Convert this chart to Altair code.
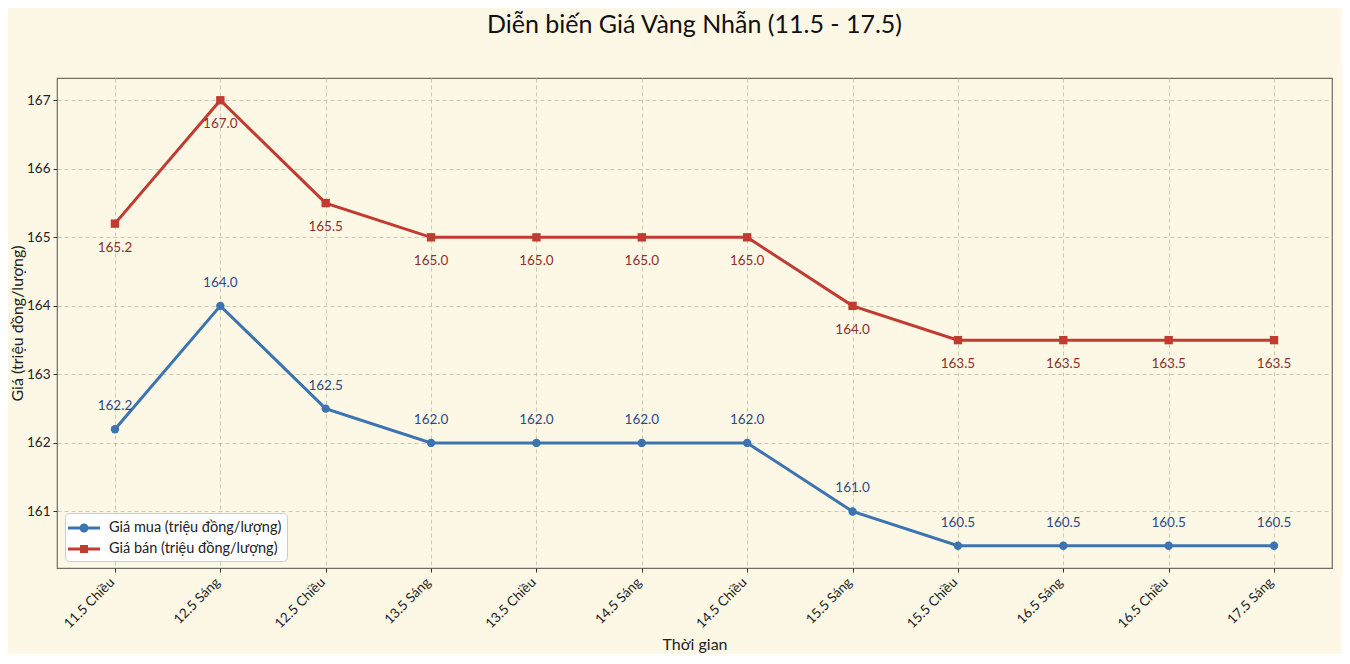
import altair as alt
import pandas as pd

labels = ["11.5 Chiều", "12.5 Sáng", "12.5 Chiều", "13.5 Sáng", "13.5 Chiều", "14.5 Sáng",
          "14.5 Chiều", "15.5 Sáng", "15.5 Chiều", "16.5 Sáng", "16.5 Chiều", "17.5 Sáng"]
gia_mua = [162.2, 164.0, 162.5, 162.0, 162.0, 162.0, 162.0, 161.0, 160.5, 160.5, 160.5, 160.5]
gia_ban = [165.2, 167.0, 165.5, 165.0, 165.0, 165.0, 165.0, 164.0, 163.5, 163.5, 163.5, 163.5]

S_MUA = "Giá mua (triệu đồng/lượng)"
S_BAN = "Giá bán (triệu đồng/lượng)"
BLUE = "#3c74b1"
RED = "#c23b30"
FONT = "Lato"

rows = []
for i, lab in enumerate(labels):
    rows.append({"idx": i, "label": lab, "series": S_MUA, "v": gia_mua[i]})
    rows.append({"idx": i, "label": lab, "series": S_BAN, "v": gia_ban[i]})
df = pd.DataFrame(rows)

label_expr = "[" + ",".join("'" + l + "'" for l in labels) + "][datum.value]"

x = alt.X("idx:Q", scale=alt.Scale(domain=[-0.55, 11.55], nice=False, zero=False),
          axis=alt.Axis(values=list(range(len(labels))), labelExpr=label_expr,
                        labelAngle=-45, labelAlign="right", labelBaseline="top",
                        labelOffset=-8, titlePadding=6, title="Thời gian"))
y = alt.Y("v:Q", scale=alt.Scale(domain=[160.175, 167.325], nice=False, zero=False),
          axis=alt.Axis(values=[161, 162, 163, 164, 165, 166, 167], format="d",
                        titlePadding=1, title="Giá (triệu đồng/lượng)"))

base = alt.Chart(df)
mua = base.transform_filter(alt.datum.series == S_MUA)
ban = base.transform_filter(alt.datum.series == S_BAN)

line_mua = mua.mark_line(strokeWidth=3, color=BLUE).encode(x=x, y=y)
line_ban = ban.mark_line(strokeWidth=3, color=RED).encode(x=x, y=y)

pts_mua = mua.mark_point(shape="circle", filled=True, size=70, opacity=1,
                         color=BLUE).encode(x=x, y=y)
pts_ban = ban.mark_point(shape="square", filled=True, size=70, opacity=1,
                         color=RED).encode(x=x, y=y)

txt_mua = mua.mark_text(dy=-23, fontSize=13.5, font=FONT, color="#2c4a86").encode(
    x=x, y=y, text=alt.Text("v:Q", format=".1f"))
txt_ban = ban.mark_text(dy=24, fontSize=13.5, font=FONT, color="#8e2f2a").encode(
    x=x, y=y, text=alt.Text("v:Q", format=".1f"))

circle_line = ("M-1.6,-0.15H1.6V0.15H-1.6Z "
               "M-0.45,0A0.45,0.45 0 1,1 0.45,0A0.45,0.45 0 1,1 -0.45,0Z")
square_line = "M-1.6,-0.15H1.6V0.15H-1.6Z M-0.4,-0.4H0.4V0.4H-0.4Z"

legend_layer = base.transform_filter(alt.datum.v > 1000).mark_point(
    filled=True, opacity=1, strokeWidth=0).encode(
    x=x, y=y,
    color=alt.Color("series:N", scale=alt.Scale(domain=[S_MUA, S_BAN], range=[BLUE, RED]),
                    title=None,
                    legend=alt.Legend(orient="none", legendX=8, legendY=435,
                                      fillColor="#ffffff", strokeColor="#cccccc",
                                      cornerRadius=4, padding=5, rowPadding=4,
                                      labelFontSize=14.5, labelFont=FONT, labelLimit=0,
                                      labelColor="#222222", symbolSize=400,
                                      symbolOffset=4, labelOffset=15,
                                      symbolStrokeWidth=0)),
    shape=alt.Shape("series:N", scale=alt.Scale(domain=[S_MUA, S_BAN],
                                                range=[circle_line, square_line]),
                    title=None))

chart = alt.layer(line_mua, line_ban, pts_mua, pts_ban, txt_mua, txt_ban,
                  legend_layer).properties(
    width=1275, height=490,
    autosize=alt.AutoSizeParams(type="none"),
    padding={"left": 49, "top": 70, "right": 10, "bottom": 86},
    background="#fdf8e6",
    title=alt.TitleParams("Diễn biến Giá Vàng Nhẫn (11.5 - 17.5)", fontSize=25,
                          font=FONT, fontWeight="normal", color="#111111",
                          anchor="middle", baseline="alphabetic", offset=20),
).configure_view(
    stroke="#6f6f62", strokeWidth=1.2, fill="#fdf8e6"
).configure_axis(
    grid=True, gridDash=[4, 3], gridColor="#c5c2b2", gridWidth=0.9,
    domain=False, tickColor="#333333", tickSize=4, labelFont=FONT,
    labelFontSize=13.5, labelColor="#222222", titleFont=FONT, titleFontSize=16,
    titleFontWeight="normal", titleColor="#222222", labelPadding=3
)

chart.save("out.html", embed_options={"renderer": "svg", "actions": False})
